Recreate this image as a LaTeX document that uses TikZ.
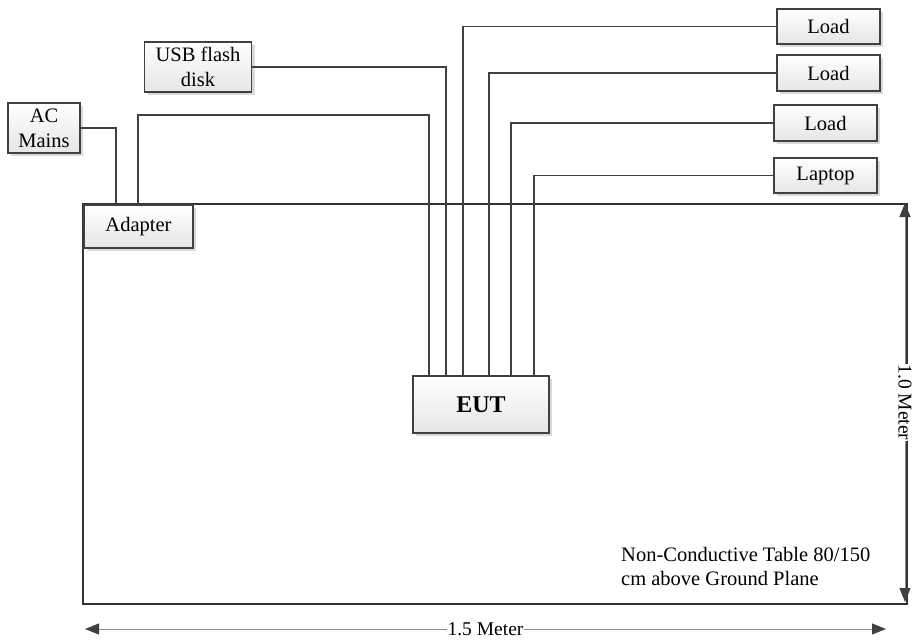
\documentclass[tikz,border=0pt]{standalone}
\usepackage{fontspec}
\setmainfont{Liberation Serif}
\usetikzlibrary{shadows,arrows.meta}
\begin{document}
\begin{tikzpicture}[x=1pt,y=-1pt,
  box/.style={draw=black!75,line width=1.6pt,top color=white,bottom color=black!10,
    drop shadow={shadow xshift=3pt,shadow yshift=-3pt,fill=black!15,opacity=1},
    inner sep=0pt,align=center,font=\fontsize{20.5}{25}\selectfont},
  wire/.style={draw=black!75,line width=1.4pt},
  dim/.style={draw=black!45,line width=1pt,{Triangle[length=14pt,width=11pt,color=black!75]}-{Triangle[length=14pt,width=11pt,color=black!75]}},
  dimlbl/.style={fill=white,inner sep=0.5pt,font=\fontsize{19.5}{22}\selectfont}]
\useasboundingbox (0,0) rectangle (913,643);
% table
\draw[draw=black!80,line width=2.8pt] (83,204) rectangle (907,604);
\node[anchor=north west,align=left,inner sep=0pt,font=\fontsize{20.5}{24}\selectfont] (tbl) at (621,547) {Non-Conductive Table 80/150\\cm above Ground Plane};
% boxes
\node[box,minimum width=72,minimum height=50] (acm) at (44,128) {AC\\Mains};
\node[box,minimum width=107,minimum height=50] (usb) at (198,67) {USB flash\\disk};
\node[box,minimum width=109,minimum height=43] (adp) at (138.5,226.5) {Adapter};
\node[box,minimum width=136,minimum height=57,font=\fontsize{24}{26}\selectfont\bfseries] (eut) at (481,404.5) {EUT};
\node[box,minimum width=103,minimum height=35] (ld1) at (828.5,26.5) {Load};
\node[box,minimum width=103,minimum height=36] (ld2) at (828.5,73) {Load};
\node[box,minimum width=103,minimum height=36] (ld3) at (825.5,123) {Load};
\node[box,minimum width=103,minimum height=35] (lap) at (825.5,175.5) {Laptop};
% connector end points
\coordinate (a1) at (116,205);
\coordinate (a2) at (138,205);
\coordinate (e1) at (429,376);
\coordinate (e2) at (446,376);
\coordinate (e3) at (463,376);
\coordinate (e4) at (489,376);
\coordinate (e5) at (511,376);
\coordinate (e6) at (534,376);
% wires
\draw[wire] (acm.east) -| (a1);
\draw[wire] (a2) -- ++(0,-90) -| (e1);
\draw[wire] (usb.east) -| (e2);
\draw[wire] (ld1.west) -| (e3);
\draw[wire] (ld2.west) -| (e4);
\draw[wire] (ld3.west) -| (e5);
\draw[wire] (lap.west) -| (e6);
% dimensions
\coordinate (v1) at (905,203);
\coordinate (v2) at (905,602);
\coordinate (h1) at (85,629);
\coordinate (h2) at (886,629);
\draw[dim] (v1) -- node[dimlbl,rotate=-90] (vl) {1.0 Meter} (v2);
\draw[dim] (h1) -- node[dimlbl,pos=0.5] (hl) {1.5 Meter} (h2);
\end{tikzpicture}
\end{document}
